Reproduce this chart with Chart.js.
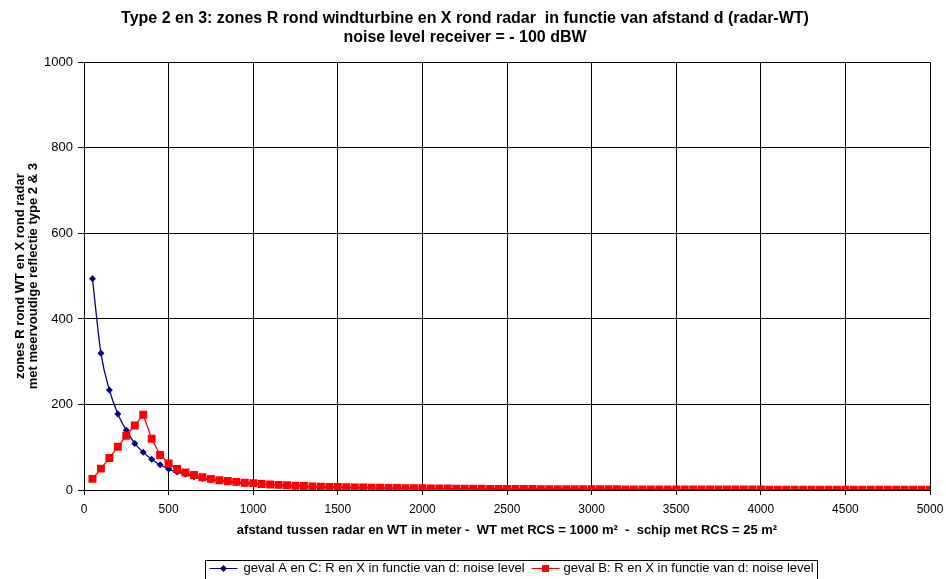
<!DOCTYPE html>
<html>
<head>
<meta charset="utf-8">
<script src="https://cdn.jsdelivr.net/npm/chart.js@4.4.1/dist/chart.umd.min.js"></script>
<style>
  body { margin: 0; background: #fff; }
  #wrap { width: 946px; height: 579px; }
</style>
</head>
<body>
<div id="wrap"><canvas id="grafiek" width="946" height="579"></canvas></div>
<script>
// afstand radar - WT (m)
const afstanden = [
  50, 100, 150, 200, 250, 300, 350, 400, 450, 500,
  550, 600, 650, 700, 750, 800, 850, 900, 950, 1000,
  1050, 1100, 1150, 1200, 1250, 1300, 1350, 1400, 1450, 1500,
  1550, 1600, 1650, 1700, 1750, 1800, 1850, 1900, 1950, 2000,
  2050, 2100, 2150, 2200, 2250, 2300, 2350, 2400, 2450, 2500,
  2550, 2600, 2650, 2700, 2750, 2800, 2850, 2900, 2950, 3000,
  3050, 3100, 3150, 3200, 3250, 3300, 3350, 3400, 3450, 3500,
  3550, 3600, 3650, 3700, 3750, 3800, 3850, 3900, 3950, 4000,
  4050, 4100, 4150, 4200, 4250, 4300, 4350, 4400, 4450, 4500,
  4550, 4600, 4650, 4700, 4750, 4800, 4850, 4900, 4950, 5000
];

// geval A en C
const gevalAC = [
  494, 320, 234, 178, 140, 109, 88, 72, 59, 49,
  42, 37, 31, 27, 24, 21, 19, 17, 15, 14,
  13, 12, 11, 10, 9, 8.3, 7.7, 7.1, 6.7, 6.2,
  5.8, 5.5, 5.1, 4.9, 4.6, 4.3, 4.1, 3.9, 3.7, 3.5,
  3.3, 3.2, 3.0, 2.9, 2.8, 2.6, 2.5, 2.4, 2.3, 2.2,
  2.1, 2.0, 2.0, 1.9, 1.8, 1.8, 1.7, 1.6, 1.6, 1.5,
  1.5, 1.4, 1.4, 1.4, 1.3, 1.3, 1.2, 1.2, 1.2, 1.1,
  1.1, 1.1, 1.0, 1.0, 1.0, 1.0, 0.9, 0.9, 0.9, 0.9,
  0.8, 0.8, 0.8, 0.8, 0.8, 0.7, 0.7, 0.7, 0.7, 0.7,
  0.7, 0.7, 0.7, 0.6, 0.6, 0.6, 0.6, 0.6, 0.6, 0.6
];

// geval B
const gevalB = [
  26, 50, 75, 101, 127, 151, 176, 120, 82, 62,
  49, 41, 35, 30, 26, 23, 21, 19, 17, 16,
  14, 13, 12, 11, 10, 9.2, 8.5, 7.9, 7.4, 6.9,
  6.5, 6.1, 5.7, 5.4, 5.1, 4.8, 4.5, 4.3, 4.1, 3.9,
  3.7, 3.5, 3.4, 3.2, 3.1, 2.9, 2.8, 2.7, 2.6, 2.5,
  2.4, 2.3, 2.2, 2.1, 2.0, 2.0, 1.9, 1.8, 1.8, 1.7,
  1.7, 1.6, 1.6, 1.5, 1.5, 1.4, 1.4, 1.3, 1.3, 1.3,
  1.2, 1.2, 1.2, 1.1, 1.1, 1.1, 1.0, 1.0, 1.0, 1.0,
  0.9, 0.9, 0.9, 0.9, 0.9, 0.8, 0.8, 0.8, 0.8, 0.8,
  0.8, 0.8, 0.8, 0.7, 0.7, 0.7, 0.7, 0.7, 0.7, 0.7
];

const titelRegels = [
  "Type 2 en 3: zones R rond windturbine en X rond radar  in functie van afstand d (radar-WT)",
  "noise level receiver = - 100 dBW"
];
const xTitel = "afstand tussen radar en WT in meter -  WT met RCS = 1000 m²  -  schip met RCS = 25 m²";
const yTitel = ["zones R rond WT en X rond radar", "met meervoudige reflectie type 2 & 3"];
const legendeA = "geval A en C: R en X in functie van d: noise level";
const legendeB = "geval B: R en X in functie van d: noise level";

const BLAUW = "#000080";
const ROOD = "#FF0000";
const FONT = "'Liberation Sans', Arial, sans-serif";

function punten(waarden) {
  return afstanden.map((d, i) => ({ x: d, y: waarden[i] }));
}

// legende onderaan met kader, lijn + marker zoals Excel
const legendePlugin = {
  id: "legendeKader",
  afterDraw(chart) {
    const ctx = chart.ctx;
    const ca = chart.chartArea;
    ctx.save();
    ctx.font = "13px " + FONT;
    const wA = ctx.measureText(legendeA).width;
    const wB = ctx.measureText(legendeB).width;
    const staal = 28;
    const totaal = 4 + staal + 6 + wA + 7 + staal + 4 + wB + 4;
    const midden = (ca.left + ca.right) / 2 + 4;
    const links = Math.round(midden - totaal / 2) + 0.5;
    const boven = ca.bottom + 70.5;
    const yc = boven + 8;

    ctx.strokeStyle = "#000";
    ctx.lineWidth = 1;
    ctx.strokeRect(links, boven, Math.round(totaal), 30);

    let x = links + 4;
    // blauw
    ctx.strokeStyle = BLAUW;
    ctx.beginPath();
    ctx.moveTo(x, yc);
    ctx.lineTo(x + staal, yc);
    ctx.stroke();
    ctx.fillStyle = BLAUW;
    ctx.beginPath();
    ctx.moveTo(x + staal / 2 - 3.5, yc);
    ctx.lineTo(x + staal / 2, yc - 3.5);
    ctx.lineTo(x + staal / 2 + 3.5, yc);
    ctx.lineTo(x + staal / 2, yc + 3.5);
    ctx.closePath();
    ctx.fill();
    x += staal + 6;
    ctx.fillStyle = "#000";
    ctx.textBaseline = "middle";
    ctx.fillText(legendeA, x, yc);
    x += wA + 7;
    // rood
    ctx.strokeStyle = ROOD;
    ctx.beginPath();
    ctx.moveTo(x, yc);
    ctx.lineTo(x + staal, yc);
    ctx.stroke();
    ctx.fillStyle = ROOD;
    ctx.fillRect(x + staal / 2 - 3.5, yc - 3.5, 7, 7);
    x += staal + 4;
    ctx.fillStyle = "#000";
    ctx.fillText(legendeB, x, yc);
    ctx.restore();
  }
};

const ctxGrafiek = document.getElementById("grafiek").getContext("2d");

const grafiek = new Chart(ctxGrafiek, {
  type: "line",
  data: {
    datasets: [
      {
        label: legendeA,
        data: punten(gevalAC),
        borderColor: BLAUW,
        backgroundColor: BLAUW,
        borderWidth: 1.3,
        pointStyle: "rectRot",
        pointRadius: 3.5,
        pointBorderWidth: 0,
        cubicInterpolationMode: "monotone",
        order: 1,
      },
      {
        label: legendeB,
        data: punten(gevalB),
        borderColor: ROOD,
        backgroundColor: ROOD,
        borderWidth: 1.3,
        pointStyle: "rect",
        pointRadius: 5.6,
        pointBorderWidth: 0,
        tension: 0,
        order: 0,
      },
    ],
  },
  options: {
    responsive: false,
    animation: false,
    devicePixelRatio: 1,
    layout: { padding: { left: 0, right: 16, top: 0, bottom: 39 } },
    plugins: {
      legend: { display: false },
      tooltip: { enabled: false },
      title: {
        display: true,
        text: titelRegels,
        color: "#000",
        font: { family: FONT, size: 16, weight: "bold", lineHeight: 1.2 },
        padding: { top: 9, bottom: 15 },
      },
    },
    scales: {
      x: {
        type: "linear",
        min: 0,
        max: 5000,
        afterFit: (s) => {
          s.height = 50;
          s.paddingLeft = 0;
          s.paddingRight = 0;
        },
        ticks: {
          stepSize: 500,
          color: "#000",
          font: { family: FONT, size: 12 },
          padding: 7,
          maxRotation: 0,
          callback: (v) => String(v),
        },
        grid: { color: "#000", tickLength: 5, lineWidth: 1 },
        border: { color: "#000" },
        title: {
          display: true,
          text: xTitel,
          color: "#000",
          font: { family: FONT, size: 13, weight: "bold" },
          padding: { top: 4, bottom: 2 },
        },
      },
      y: {
        min: 0,
        max: 1000,
        afterFit: (s) => { s.width = 84; },
        ticks: {
          stepSize: 200,
          color: "#000",
          font: { family: FONT, size: 13 },
          padding: 5,
          callback: (v) => String(v),
        },
        grid: { color: "#000", tickLength: 6, lineWidth: 1 },
        border: { color: "#000" },
        title: {
          display: true,
          text: yTitel,
          color: "#000",
          font: { family: FONT, size: 13, weight: "bold", lineHeight: 1.0 },
          padding: { top: 14, bottom: 4 },
        },
      },
    },
  },
  plugins: [legendePlugin],
});
</script>
</body>
</html>
